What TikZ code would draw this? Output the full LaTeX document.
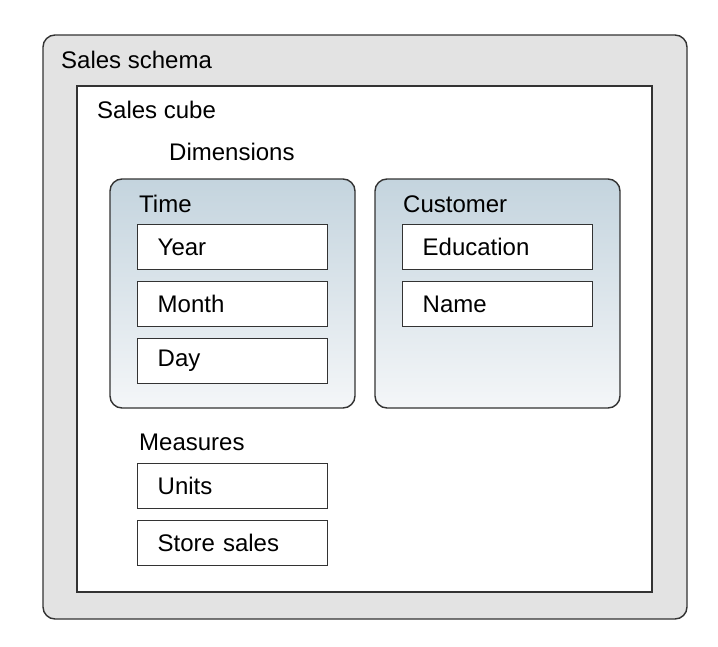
\documentclass[tikz,border=0pt]{standalone}
\usepackage{fontspec}
\setmainfont{Liberation Sans}
\usetikzlibrary{positioning}
\definecolor{schemagray}{HTML}{E3E3E3}
\definecolor{edgegray}{HTML}{333333}
\definecolor{paneltop}{HTML}{C4D4DE}
\definecolor{panelbottom}{HTML}{F4F6F8}
\begin{document}
\begin{tikzpicture}[x=1pt, y=-1pt, font=\fontsize{24}{28}\selectfont,
    frame/.style={draw=edgegray, line width=1.4pt},
    panel/.style={frame, rounded corners=12pt, top color=paneltop, bottom color=panelbottom},
    item/.style={frame, fill=white, minimum width=190pt, minimum height=45pt, inner xsep=20pt, text width=150pt, align=left, anchor=north west},
    caption/.style={anchor=base west, inner sep=0pt}]
    \useasboundingbox (0,0) rectangle (718,646);
    % outer frames
    \draw[frame, fill=schemagray, rounded corners=12pt] (43,35) rectangle (687,619);
    \draw[frame, fill=white] (77,86) rectangle (652,592);
    \node[caption] (schema) at (61,68) {Sales schema};
    \node[caption] (cube) at (97,118) {Sales cube};
    \node[caption] (dims) at (169,160) {Dimensions};

    % dimension panels
    \draw[panel] (110,179) rectangle (355,408);
    \draw[panel] (375,179) rectangle (620,408);
    \node[caption] (time) at (139,212) {Time};
    \node[caption] (customer) at (403,212) {Customer};

    \node[item] (year) at (137,224) {Year};
    \node[item] (month) at (137,281) {Month};
    \node[item] (day) at (137,338) {Day};
    \node[item] (education) at (402,224) {Education};
    \node[item] (name) at (402,281) {Name};

    % measures
    \node[caption] (measures) at (139,450) {Measures};
    \node[item] (units) at (137,463) {Units};
    \node[item] (storesales) at (137,520) {Store sales};
\end{tikzpicture}
\end{document}
